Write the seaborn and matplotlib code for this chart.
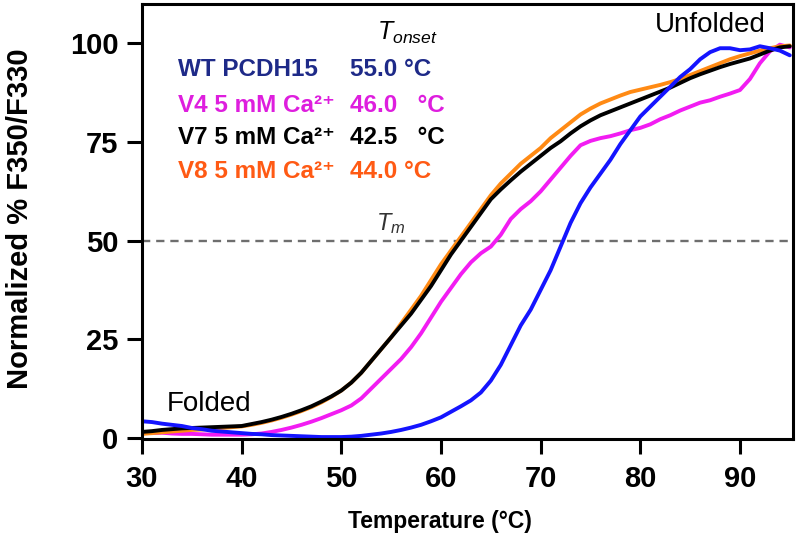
import numpy as np
import pandas as pd
import matplotlib
matplotlib.use("Agg")
import matplotlib.pyplot as plt
import seaborn as sns

temps = list(range(30, 96))

wt = [4.2, 4.0, 3.6, 3.3, 3.0, 2.5, 2.2, 1.8, 1.6, 1.4,
      1.2, 1.0, 0.9, 0.7, 0.6, 0.5, 0.4, 0.3, 0.2, 0.2,
      0.2, 0.3, 0.5, 0.8, 1.1, 1.5, 2.0, 2.6, 3.3, 4.2,
      5.2, 6.6, 8.0, 9.5, 11.5, 14.5, 18.5, 23.5, 28.5, 32.5,
      37.5, 42.5, 48.5, 54.5, 59.5, 63.5, 67.0, 70.5, 74.5, 78.0,
      81.5, 84.0, 86.5, 89.0, 91.5, 93.5, 96.0, 97.8, 98.8, 98.8,
      98.3, 98.5, 99.3, 98.8, 98.2, 97.0]

v4 = [1.5, 1.2, 1.3, 1.1, 1.0, 1.0, 0.9, 0.8, 0.8, 0.8,
      0.8, 0.9, 1.1, 1.5, 2.0, 2.6, 3.3, 4.1, 5.0, 6.0,
      7.0, 8.2, 10.0, 12.5, 15.0, 17.5, 20.0, 23.0, 26.5, 30.5,
      34.5, 38.0, 41.5, 44.5, 46.8, 48.5, 51.5, 55.5, 58.0, 60.0,
      62.5, 65.5, 68.5, 71.5, 74.2, 75.3, 76.0, 76.5, 77.2, 78.0,
      78.6, 79.5, 80.8, 81.8, 83.0, 84.0, 85.0, 85.6, 86.5, 87.3,
      88.2, 91.0, 95.0, 98.0, 99.7, 99.0]

v7 = [1.5, 1.7, 2.0, 2.2, 2.4, 2.5, 2.6, 2.7, 2.8, 2.9,
      3.0, 3.5, 4.0, 4.6, 5.3, 6.1, 7.0, 8.0, 9.2, 10.5,
      12.0, 14.0, 16.5, 19.5, 22.5, 25.5, 28.5, 31.5, 35.0, 38.5,
      42.5, 46.5, 50.0, 53.5, 57.0, 60.5, 63.0, 65.3, 67.5, 69.5,
      71.5, 73.5, 75.2, 77.2, 79.0, 80.5, 81.8, 82.8, 83.8, 84.8,
      85.8, 86.8, 87.8, 88.8, 90.0, 91.2, 92.2, 93.1, 94.0, 94.8,
      95.5, 96.2, 97.2, 98.2, 99.0, 99.3]

v8 = [1.0, 1.2, 1.4, 1.6, 1.8, 2.0, 2.1, 2.3, 2.5, 2.7,
      2.9, 3.3, 3.8, 4.4, 5.1, 5.9, 6.8, 7.8, 9.0, 10.4,
      12.0, 14.0, 16.5, 19.5, 22.5, 25.5, 29.0, 32.5, 36.0, 40.0,
      44.0, 47.5, 51.0, 54.5, 58.0, 61.5, 64.5, 67.0, 69.5, 71.5,
      73.5, 76.0, 78.0, 80.0, 82.0, 83.5, 84.8, 85.8, 86.8, 87.7,
      88.3, 88.9, 89.5, 90.2, 91.0, 92.0, 93.0, 94.0, 95.0, 96.0,
      96.8, 97.5, 98.2, 98.8, 99.3, 99.5]

series_names = ["V4", "V8", "V7", "WT"]
series_values = [v4, v8, v7, wt]
line_colors = {"WT": "#1414FF", "V4": "#F21CF2", "V7": "#000000", "V8": "#FF8A14"}

legend_labels = ["WT PCDH15", "V4 5 mM Ca\u00b2\u207a", "V7 5 mM Ca\u00b2\u207a", "V8 5 mM Ca\u00b2\u207a"]
legend_values = ["55.0 \u00b0C", "46.0   \u00b0C", "42.5   \u00b0C", "44.0 \u00b0C"]
legend_colors = ["#1E2A88", "#DE1EDE", "#000000", "#FF5A14"]

xticks = [30, 40, 50, 60, 70, 80, 90]
yticks = [0, 25, 50, 75, 100]

df = pd.DataFrame({
    "Temperature": np.tile(temps, len(series_names)),
    "Value": np.concatenate(series_values),
    "Sample": np.repeat(series_names, len(temps)),
})

sns.set_style("ticks")
plt.rcParams["font.family"] = ["Liberation Sans", "DejaVu Sans"]
plt.rcParams["mathtext.fontset"] = "custom"
plt.rcParams["mathtext.it"] = "Liberation Sans:italic"
plt.rcParams["mathtext.rm"] = "Liberation Sans"
plt.rcParams["text.color"] = "black"
plt.rcParams["axes.labelcolor"] = "black"
plt.rcParams["xtick.labelcolor"] = "black"
plt.rcParams["ytick.labelcolor"] = "black"

fig = plt.figure(figsize=(8.0, 5.41), dpi=100)
ax = fig.add_axes([0.1775, 0.1885, 0.8135, 0.804])

sns.lineplot(data=df, x="Temperature", y="Value", hue="Sample",
             hue_order=series_names, palette=line_colors, linewidth=2.8,
             legend=False, ax=ax)

ax.axhline(50, color="#6E6E6E", linestyle=(0, (3.5, 2.5)), linewidth=1.7, zorder=1)

ax.set_xlim(30, 95.3)
ax.set_ylim(-0.3, 110)
ax.set_xticks(xticks)
ax.set_yticks(yticks)
ax.set_xticklabels([str(t) for t in xticks], fontsize=21, fontweight="bold", color="black")
ax.set_yticklabels([str(t) for t in yticks], fontsize=21, fontweight="bold", color="black")
ax.tick_params(axis="both", direction="out", length=11, width=2.2, color="black")
ax.tick_params(axis="x", pad=8)
ax.tick_params(axis="y", pad=6)
for s in ax.spines.values():
    s.set_linewidth(2.2)
    s.set_color("black")

ax.set_xlabel("Temperature (\u00b0C)", fontsize=16.5, fontweight="bold", color="black")
ax.set_ylabel("Normalized % F350/F330", fontsize=21, fontweight="bold", color="black")
ax.xaxis.set_label_coords(0.458, -0.163)
ax.yaxis.set_label_coords(-0.166, 0.507)

row_y = [69, 105, 138, 171]
for lab, val, col, py in zip(legend_labels, legend_values, legend_colors, row_y):
    fig.text(178 / 800, 1 - py / 541, lab, color=col, fontsize=17.5, fontweight="bold",
             va="center", ha="left")
    fig.text(350 / 800, 1 - py / 541, val, color=col, fontsize=17.5, fontweight="bold",
             va="center", ha="left")

fig.text(377 / 800, 1 - 33 / 541, r"$T_{onset}$", fontsize=18, va="center", ha="left", color="black")
fig.text(376 / 800, 1 - 224 / 541, r"$T_m$", fontsize=17, va="center", ha="left", color="#333333")
fig.text(167 / 800, 1 - 404 / 541, "Folded", fontsize=20, va="center", ha="left", color="black")
fig.text(655 / 800, 1 - 25 / 541, "Unfolded", fontsize=20, va="center", ha="left", color="black")

fig.savefig("out.png", dpi=100)
